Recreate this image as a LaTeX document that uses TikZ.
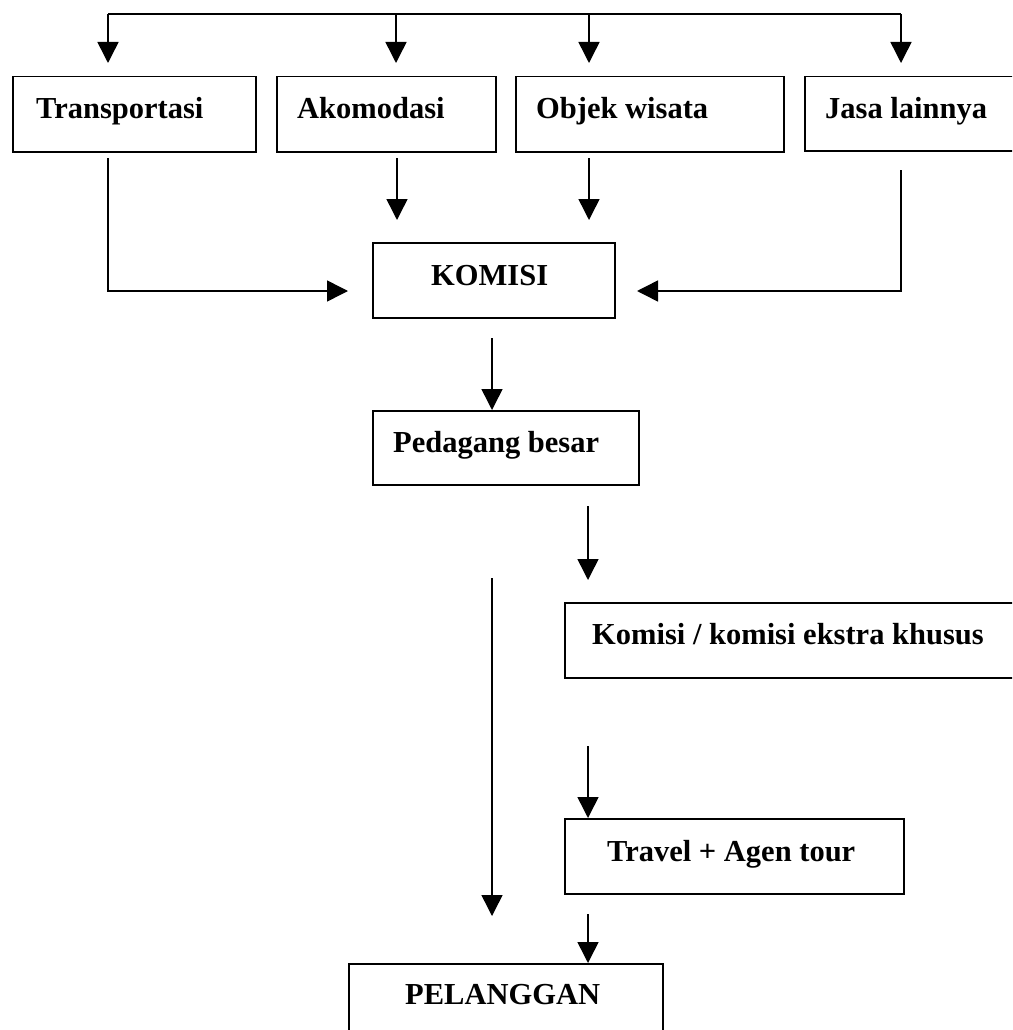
\documentclass[tikz,border=0pt]{standalone}
\usepackage{fontspec}
\setmainfont{Liberation Serif}
\usetikzlibrary{arrows.meta}
\begin{document}
\begin{tikzpicture}[x=1pt,y=-1pt,
  box/.style={draw, line width=1.5pt, rectangle, inner sep=0pt, anchor=north west},
  lbl/.style={font=\fontsize{30.5}{36}\selectfont\bfseries, anchor=base west, inner sep=0pt},
  conn/.style={line width=1.5pt},
  arr/.style={conn, -{Triangle[length=21pt,width=21pt]}}]
\clip (0,0) rectangle (1012,1030);
\fill[white] (0,0) rectangle (1012,1030);
% boxes
\node[box, minimum width=243pt, minimum height=75pt] (trans) at (12,76) {};
\node[box, minimum width=219pt, minimum height=75pt] (akom) at (276,76) {};
\node[box, minimum width=268pt, minimum height=75pt] (objek) at (515,76) {};
\node[box, minimum width=240pt, minimum height=74pt] (jasa) at (804,76) {};
\node[box, minimum width=242pt, minimum height=75pt] (komisi) at (372,242) {};
\node[box, minimum width=266pt, minimum height=74pt] (pedagang) at (372,410) {};
\node[box, minimum width=480pt, minimum height=75pt] (ekstra) at (564,602) {};
\node[box, minimum width=339pt, minimum height=75pt] (travel) at (564,818) {};
\node[box, minimum width=314pt, minimum height=100pt] (pelanggan) at (348,963) {};
% labels
\node[lbl] (tTrans) at (36,118) {Transportasi};
\node[lbl] (tAkom) at (297,118) {Akomodasi};
\node[lbl] (tObjek) at (536,118) {Objek wisata};
\node[lbl] (tJasa) at (825,118) {Jasa lainnya};
\node[lbl] (tKomisi) at (431,285) {KOMISI};
\node[lbl] (tPedagang) at (393,452) {Pedagang besar};
\node[lbl] (tEkstra) at (592,644) {Komisi / komisi ekstra khusus};
\node[lbl] (tTravel) at (607,861) {Travel + Agen tour};
\node[lbl] (tPel) at (405,1004) {PELANGGAN};
% coordinates
\coordinate (busA) at (108,14);
\coordinate (busB) at (396,14);
\coordinate (busC) at (589,14);
\coordinate (busD) at (901,14);
\coordinate (inA) at (108,63);
\coordinate (inB) at (396,63);
\coordinate (inC) at (589,63);
\coordinate (inD) at (901,63);
\coordinate (outTrans) at (108,158);
\coordinate (outAkom) at (397,158);
\coordinate (outObjek) at (589,158);
\coordinate (outJasa) at (901,170);
\coordinate (inKomL) at (348,291);
\coordinate (inKomR) at (637,291);
\coordinate (inKomA) at (397,220);
\coordinate (inKomO) at (589,220);
\coordinate (outKom) at (492,338);
\coordinate (outPed) at (588,506);
\coordinate (toEkstra) at (588,580);
\coordinate (longTop) at (492,578);
\coordinate (longEnd) at (492,916);
\coordinate (outEkstra) at (588,746);
\coordinate (outTravel) at (588,914);
% connectors
\draw[conn] (busA) -- (busD);
\draw[arr] (busA) -- (inA);
\draw[arr] (busB) -- (inB);
\draw[arr] (busC) -- (inC);
\draw[arr] (busD) -- (inD);
\draw[arr] (outTrans) |- (inKomL);
\draw[arr] (outAkom) -- (inKomA);
\draw[arr] (outObjek) -- (inKomO);
\draw[arr] (outJasa) |- (inKomR);
\draw[arr] (outKom) -- (outKom |- pedagang.north);
\draw[arr] (outPed) -- (toEkstra);
\draw[arr] (longTop) -- (longEnd);
\draw[arr] (outEkstra) -- (outEkstra |- travel.north);
\draw[arr] (outTravel) -- (outTravel |- pelanggan.north);
\end{tikzpicture}
\end{document}
